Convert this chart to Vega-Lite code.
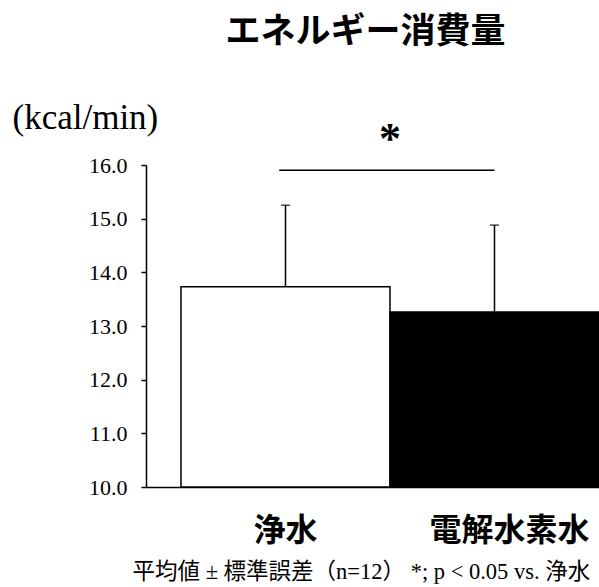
{
  "$schema": "https://vega.github.io/schema/vega-lite/v6.json",
  "autosize": "none",
  "padding": {"left": 146, "top": 165, "right": 0, "bottom": 100},
  "width": 453,
  "height": 322,
  "background": "white",
  "title": {
    "text": "エネルギー消費量",
    "font": "Noto Sans CJK JP",
    "fontSize": 35,
    "fontWeight": "bold",
    "color": "black",
    "anchor": "middle",
    "dx": -7,
    "offset": 50
  },
  "config": {"view": {"stroke": null}},
  "datasets": {
    "bars": [
      {"group": "浄水", "mean": 13.73, "upper": 15.25},
      {"group": "電解水素水", "mean": 13.26, "upper": 14.88}
    ],
    "sig": [
      {"from": "浄水", "to": "電解水素水", "y": 15.9, "label": "*", "labelY": 16.22}
    ]
  },
  "layer": [
    {
      "data": {"name": "bars"},
      "mark": {"type": "bar", "stroke": "black", "strokeWidth": 1.5},
      "encoding": {
        "x": {
          "field": "group",
          "type": "nominal",
          "sort": ["浄水", "電解水素水"],
          "scale": {"domain": ["浄水", "電解水素水"], "type": "band", "paddingInner": 0, "paddingOuter": 0.0837, "align": 1},
          "axis": {
            "title": "平均値 ± 標準誤差（n=12） *; p < 0.05 vs. 浄水",
            "titleFont": "Liberation Serif, Noto Sans CJK JP",
            "titleFontSize": 22.5,
            "titleFontWeight": "normal",
            "titleColor": "black",
            "titleAlign": "left",
            "titleBaseline": "middle",
            "titleAnchor": "start",
            "titleX": -14,
            "titleY": 84,
            "labelAngle": 0,
            "labelFont": "Noto Sans CJK JP",
            "labelFontSize": 32,
            "labelFontWeight": "bold",
            "labelColor": "black",
            "labelPadding": 28,
            "labelOffset": {"condition": {"test": "datum.value == '電解水素水'", "value": 15}, "value": 0},
            "ticks": false,
            "domainColor": "black",
            "domainWidth": 1.5
          }
        },
        "y": {
          "field": "mean",
          "type": "quantitative",
          "scale": {"domain": [10, 16], "nice": false, "zero": false},
          "axis": {
            "title": "(kcal/min)",
            "titleAngle": 0,
            "titleAlign": "left",
            "titleBaseline": "middle",
            "titleX": -134,
            "titleY": -48,
            "titleFont": "Liberation Serif",
            "titleFontSize": 35,
            "titleFontWeight": "normal",
            "titleColor": "black",
            "values": [10, 11, 12, 13, 14, 15, 16],
            "format": ".1f",
            "labelFont": "Liberation Serif",
            "labelFontSize": 22,
            "labelColor": "black",
            "labelPadding": 14,
            "tickSize": 5,
            "tickColor": "black",
            "tickWidth": 1.5,
            "domainColor": "black",
            "domainWidth": 1.5,
            "grid": false
          }
        },
        "y2": {"datum": 10},
        "color": {
          "field": "group",
          "type": "nominal",
          "scale": {"domain": ["浄水", "電解水素水"], "range": ["white", "black"]},
          "legend": null
        }
      }
    },
    {
      "data": {"name": "bars"},
      "mark": {"type": "rule", "color": "black", "strokeWidth": 1.5},
      "encoding": {
        "x": {"field": "group", "type": "nominal"},
        "y": {"field": "mean", "type": "quantitative"},
        "y2": {"field": "upper"}
      }
    },
    {
      "data": {"name": "bars"},
      "mark": {"type": "tick", "color": "black", "size": 9, "thickness": 1.5, "orient": "horizontal"},
      "encoding": {
        "x": {"field": "group", "type": "nominal"},
        "y": {"field": "upper", "type": "quantitative"}
      }
    },
    {
      "data": {"name": "sig"},
      "mark": {"type": "rule", "color": "black", "strokeWidth": 1.5},
      "encoding": {
        "x": {"field": "from", "type": "nominal", "bandPosition": 0.47},
        "x2": {"field": "to"},
        "y": {"field": "y", "type": "quantitative"}
      }
    },
    {
      "data": {"name": "sig"},
      "mark": {"type": "text", "font": "Liberation Serif", "fontSize": 44, "fontWeight": "bold", "color": "black", "baseline": "alphabetic", "align": "center"},
      "encoding": {
        "x": {"field": "from", "type": "nominal", "bandPosition": 1},
        "y": {"field": "labelY", "type": "quantitative"},
        "text": {"field": "label"}
      }
    }
  ]
}
